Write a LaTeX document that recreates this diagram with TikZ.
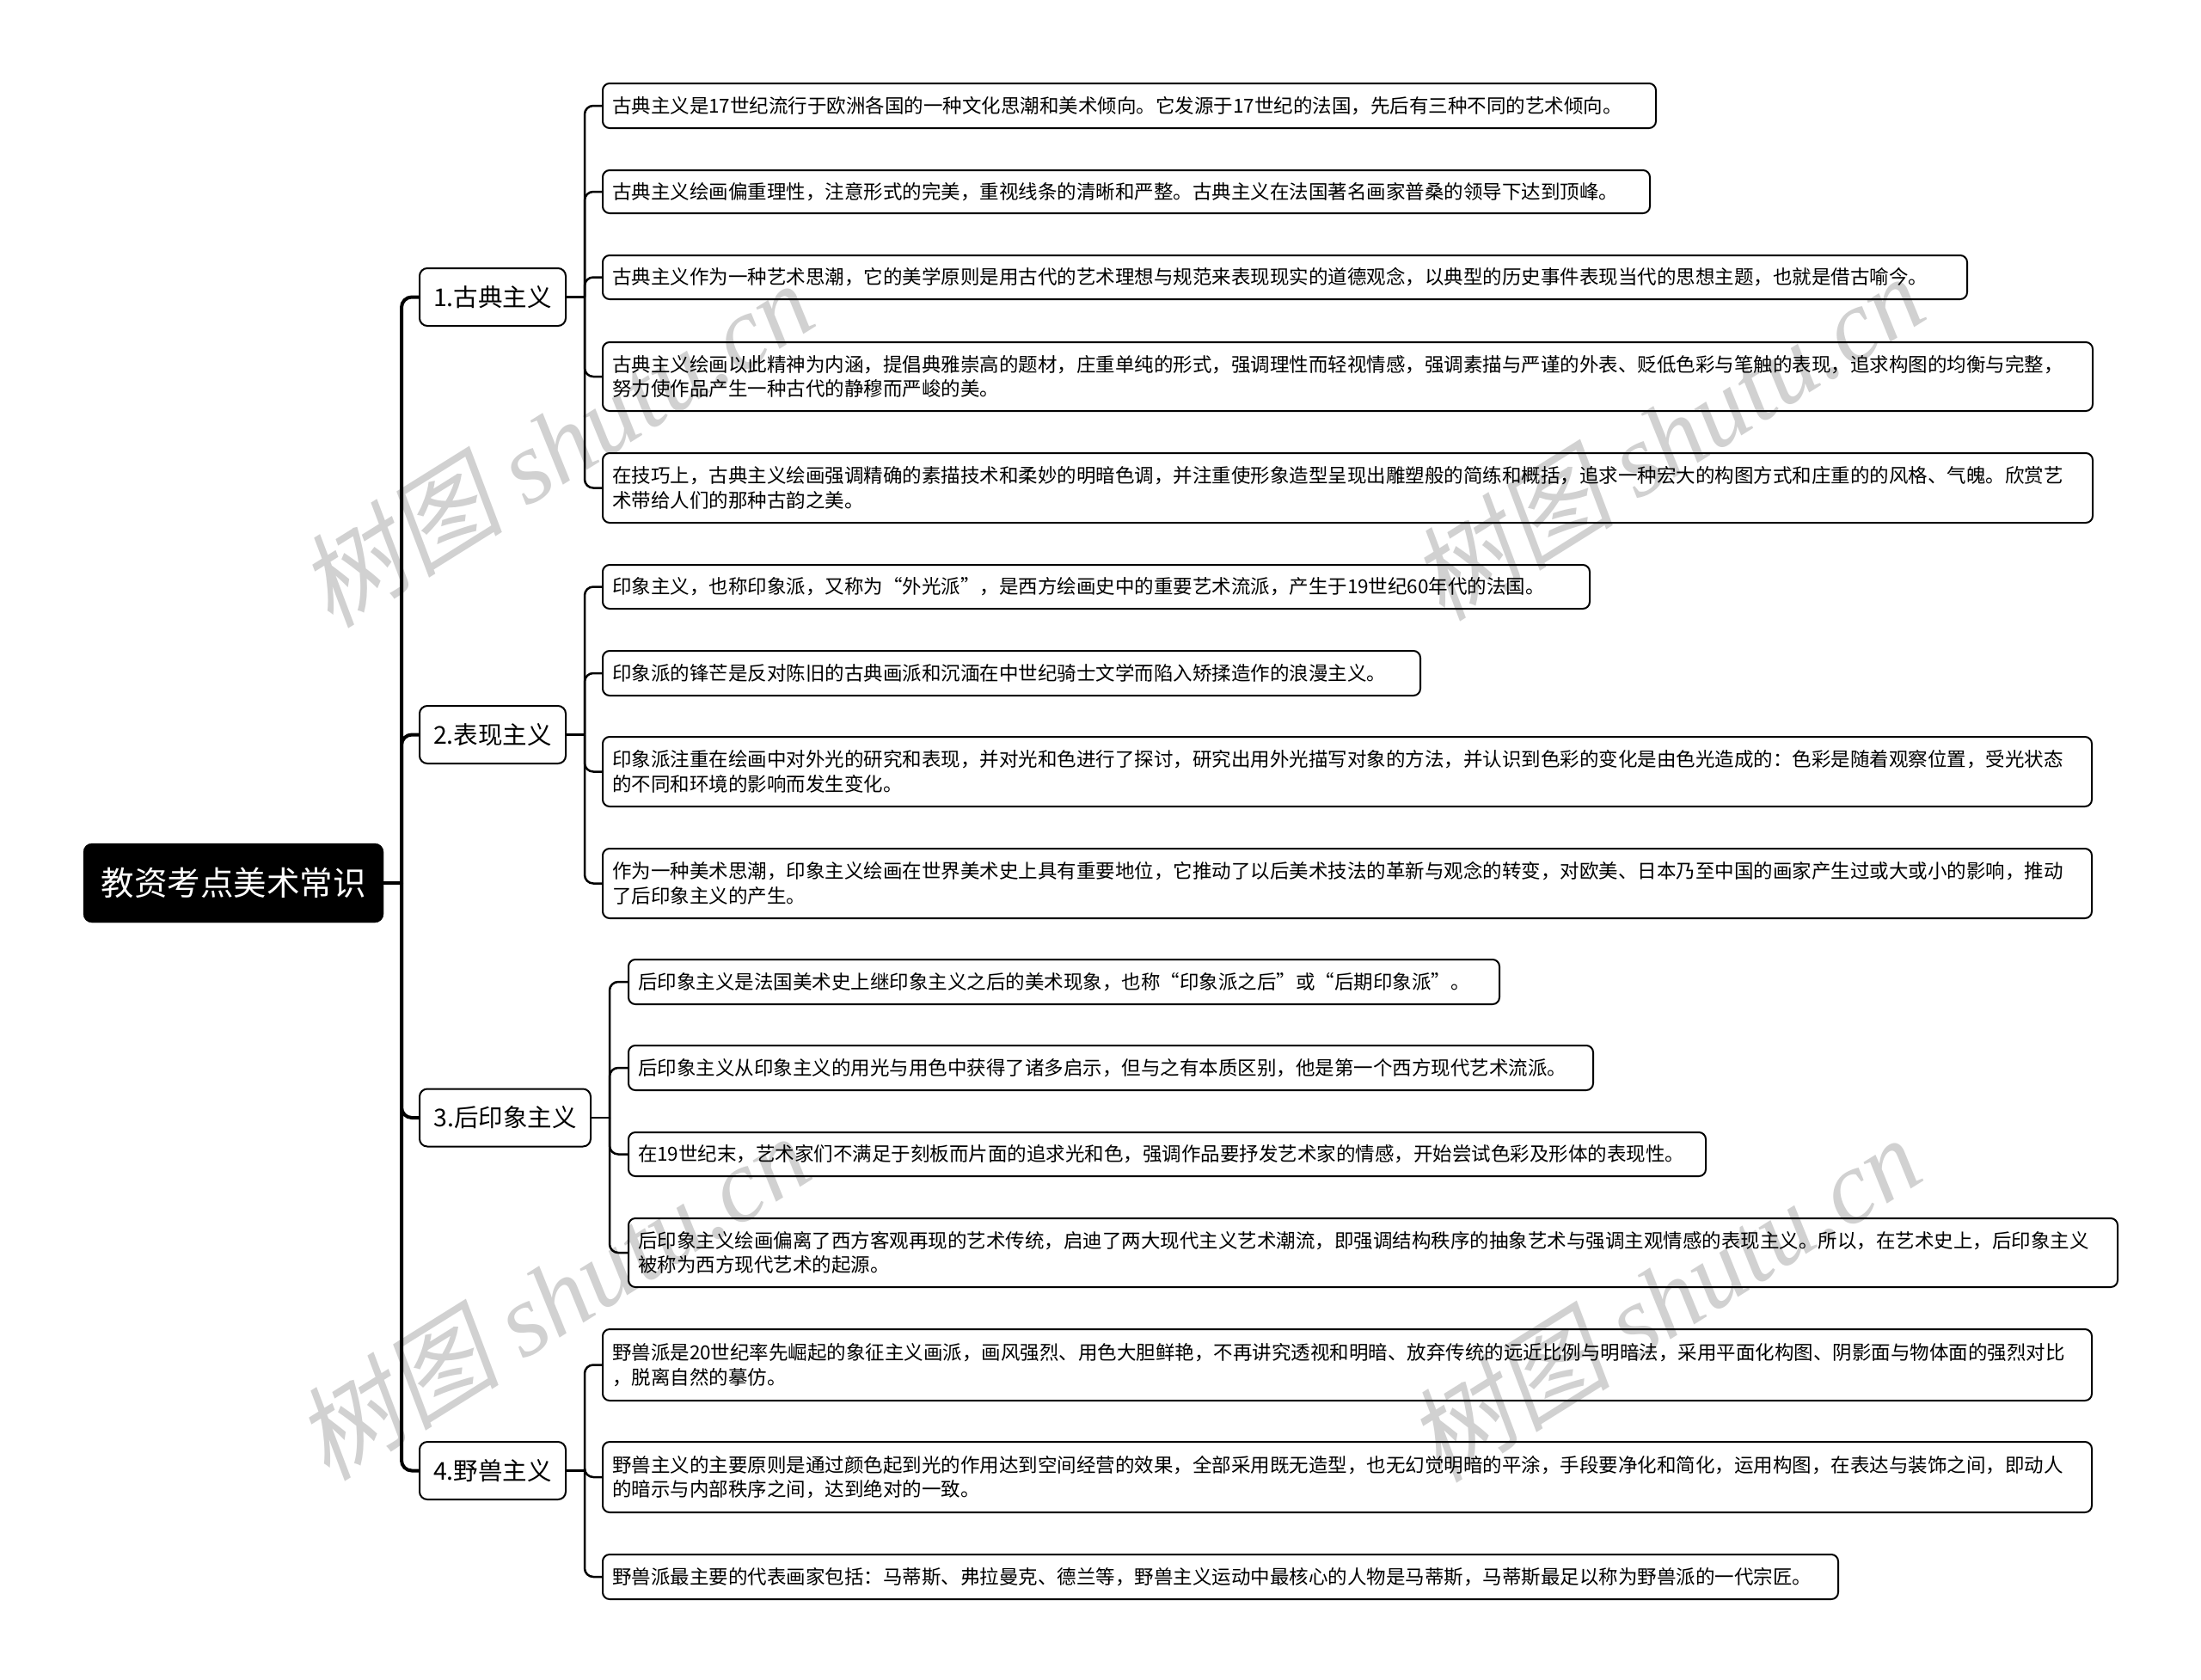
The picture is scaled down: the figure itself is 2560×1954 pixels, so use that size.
\documentclass[tikz,border=0pt]{standalone}
\usepackage{fontspec}
\setmainfont{Noto Sans CJK SC}
\newfontfamily\wmcjk{Noto Sans CJK SC}[FakeSlant=0.2]
\newfontfamily\wmlat{Liberation Serif}
\begin{document}
\begin{tikzpicture}[x=1pt,y=-1pt,
  leaf/.style={draw=black, line width=2pt, rounded corners=8pt, anchor=west, inner xsep=11pt, inner ysep=0pt, align=left, font=\fontsize{22.5}{28.5}\selectfont},
  mid/.style={draw=black, line width=2pt, rounded corners=9pt, inner sep=0pt, font=\fontsize{28.5}{34}\selectfont, minimum height=67pt},
  rootbox/.style={fill=black, draw=black, rounded corners=10pt, text=white, font=\fontsize{38.5}{46}\selectfont, minimum width=349pt, minimum height=92pt, inner sep=0pt},
  conn/.style={draw=black, line width=2.5pt},
  trunk/.style={draw=black, line width=4pt},
  wm/.style={rotate=32, text=black!18, font=\fontsize{120}{120}\selectfont}
]
\useasboundingbox (0,0) rectangle (2560,1954);
\fill[white] (0,0) rectangle (2560,1954);

% watermarks
\node[wm] (w1) at (646,516) {{\wmcjk 树图} {\wmlat\itshape shutu.cn}};
\node[wm] (w2) at (1938,508) {{\wmcjk 树图} {\wmlat\itshape shutu.cn}};
\node[wm] (w3) at (642,1508) {{\wmcjk 树图} {\wmlat\itshape shutu.cn}};
\node[wm] (w4) at (1934,1510) {{\wmcjk 树图} {\wmlat\itshape shutu.cn}};

% root
\node[rootbox] (root) at (271.5,1027) {教资考点美术常识};

% level 1
\node[mid, minimum width=170pt] (N1) at (573,345.5) {1.古典主义};
\node[mid, minimum width=170pt] (N2) at (573,854.5) {2.表现主义};
\node[mid, minimum width=199pt] (N3) at (587.5,1300) {3.后印象主义};
\node[mid, minimum width=170pt] (N4) at (573,1710.5) {4.野兽主义};

% group 1
\node[leaf, text width=1203pt, minimum height=52pt] (L1) at (700,123) {古典主义是17世纪流行于欧洲各国的一种文化思潮和美术倾向。它发源于17世纪的法国，先后有三种不同的艺术倾向。};
\node[leaf, text width=1196pt, minimum height=50pt] (L2) at (700,223) {古典主义绘画偏重理性，注意形式的完美，重视线条的清晰和严整。古典主义在法国著名画家普桑的领导下达到顶峰。};
\node[leaf, text width=1565pt, minimum height=51pt] (L3) at (700,322.5) {古典主义作为一种艺术思潮，它的美学原则是用古代的艺术理想与规范来表现现实的道德观念，以典型的历史事件表现当代的思想主题，也就是借古喻今。};
\node[leaf, text width=1711pt, minimum height=80pt] (L4) at (700,438) {古典主义绘画以此精神为内涵，提倡典雅崇高的题材，庄重单纯的形式，强调理性而轻视情感，强调素描与严谨的外表、贬低色彩与笔触的表现，追求构图的均衡与完整，\\努力使作品产生一种古代的静穆而严峻的美。};
\node[leaf, text width=1711pt, minimum height=81pt] (L5) at (700,567.5) {在技巧上，古典主义绘画强调精确的素描技术和柔妙的明暗色调，并注重使形象造型呈现出雕塑般的简练和概括，追求一种宏大的构图方式和庄重的的风格、气魄。欣赏艺\\术带给人们的那种古韵之美。};

% group 2
\node[leaf, text width=1126pt, minimum height=51pt] (L6) at (700,682.5) {印象主义，也称印象派，又称为“外光派”，是西方绘画史中的重要艺术流派，产生于19世纪60年代的法国。};
\node[leaf, text width=929pt, minimum height=52pt] (L7) at (700,783) {印象派的锋芒是反对陈旧的古典画派和沉湎在中世纪骑士文学而陷入矫揉造作的浪漫主义。};
\node[leaf, text width=1710pt, minimum height=81pt] (L8) at (700,897.5) {印象派注重在绘画中对外光的研究和表现，并对光和色进行了探讨，研究出用外光描写对象的方法，并认识到色彩的变化是由色光造成的：色彩是随着观察位置，受光状态\\的不同和环境的影响而发生变化。};
\node[leaf, text width=1710pt, minimum height=81pt] (L9) at (700,1027.5) {作为一种美术思潮，印象主义绘画在世界美术史上具有重要地位，它推动了以后美术技法的革新与观念的转变，对欧美、日本乃至中国的画家产生过或大或小的影响，推动\\了后印象主义的产生。};

% group 3
\node[leaf, text width=991pt, minimum height=52pt] (L10) at (730,1142) {后印象主义是法国美术史上继印象主义之后的美术现象，也称“印象派之后”或“后期印象派”。};
\node[leaf, text width=1100pt, minimum height=52pt] (L11) at (730,1242) {后印象主义从印象主义的用光与用色中获得了诸多启示，但与之有本质区别，他是第一个西方现代艺术流派。};
\node[leaf, text width=1231pt, minimum height=51pt] (L12) at (730,1342.5) {在19世纪末，艺术家们不满足于刻板而片面的追求光和色，强调作品要抒发艺术家的情感，开始尝试色彩及形体的表现性。};
\node[leaf, text width=1710pt, minimum height=80pt] (L13) at (730,1457) {后印象主义绘画偏离了西方客观再现的艺术传统，启迪了两大现代主义艺术潮流，即强调结构秩序的抽象艺术与强调主观情感的表现主义。所以，在艺术史上，后印象主义\\被称为西方现代艺术的起源。};

% group 4
\node[leaf, text width=1710pt, minimum height=83pt] (L14) at (700,1587.5) {野兽派是20世纪率先崛起的象征主义画派，画风强烈、用色大胆鲜艳，不再讲究透视和明暗、放弃传统的远近比例与明暗法，采用平面化构图、阴影面与物体面的强烈对比\\，脱离自然的摹仿。};
\node[leaf, text width=1710pt, minimum height=82pt] (L15) at (700,1718) {野兽主义的主要原则是通过颜色起到光的作用达到空间经营的效果，全部采用既无造型，也无幻觉明暗的平涂，手段要净化和简化，运用构图，在表达与装饰之间，即动人\\的暗示与内部秩序之间，达到绝对的一致。};
\node[leaf, text width=1415pt, minimum height=52pt] (L16) at (700,1834) {野兽派最主要的代表画家包括：马蒂斯、弗拉曼克、德兰等，野兽主义运动中最核心的人物是马蒂斯，马蒂斯最足以称为野兽派的一代宗匠。};

% connectors root -> level 1
\coordinate (rj) at (467,1027);
\draw[trunk] (root.east) -- (rj);
\foreach \n in {N1,N2,N3,N4} \draw[trunk, rounded corners=12pt] (rj) |- (\n.west);

% level 1 -> leaves
\coordinate (j1) at (680,345.5);
\draw[conn] (N1.east) -- (j1);
\foreach \l in {L1,L2,L3,L4,L5} \draw[conn, rounded corners=10pt] (j1) |- (\l.west);

\coordinate (j2) at (680,854.5);
\draw[conn] (N2.east) -- (j2);
\foreach \l in {L6,L7,L8,L9} \draw[conn, rounded corners=10pt] (j2) |- (\l.west);

\coordinate (j3) at (709,1300);
\draw[conn] (N3.east) -- (j3);
\foreach \l in {L10,L11,L12,L13} \draw[conn, rounded corners=10pt] (j3) |- (\l.west);

\coordinate (j4) at (680,1710.5);
\draw[conn] (N4.east) -- (j4);
\foreach \l in {L14,L15,L16} \draw[conn, rounded corners=10pt] (j4) |- (\l.west);
\end{tikzpicture}
\end{document}
